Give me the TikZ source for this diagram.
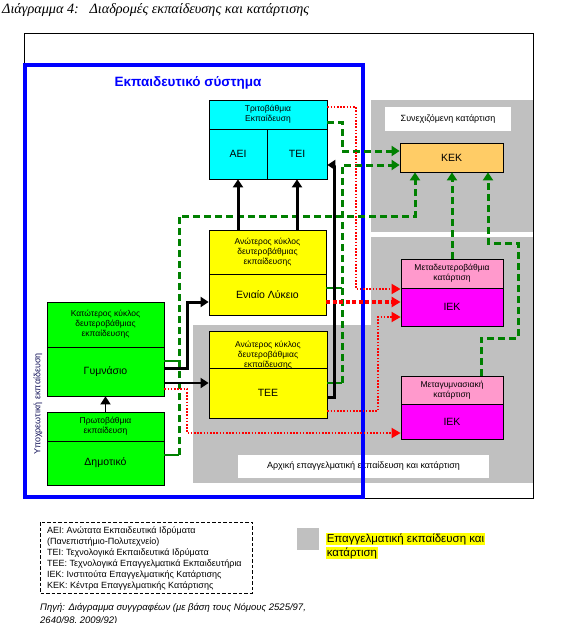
\documentclass[tikz,border=0pt]{standalone}
\usepackage{fontspec}
\setmainfont{Liberation Sans}
\newfontfamily\titlefont{Liberation Serif}
\usetikzlibrary{arrows.meta}
\definecolor{gcol}{RGB}{0,128,0}
\definecolor{graybg}{RGB}{192,192,192}
\definecolor{kekcol}{RGB}{255,204,102}
\definecolor{pinkcol}{RGB}{255,153,204}
\definecolor{magcol}{RGB}{255,0,255}
\definecolor{cyancol}{RGB}{0,255,255}
\definecolor{greencol}{RGB}{0,255,0}
\definecolor{yelcol}{RGB}{255,255,0}
\definecolor{bluecol}{RGB}{0,0,255}
\definecolor{navytext}{RGB}{20,20,90}
\tikzset{
  box/.style={draw=black, line width=0.8pt, inner sep=0pt, align=center},
  hdr/.style={box, font=\fontsize{8.5}{10}\selectfont},
  big/.style={box, font=\fontsize{10.5}{12}\selectfont},
  lbl/.style={fill=white, inner sep=0pt, font=\fontsize{9}{11}\selectfont},
  blk/.style={draw=black, line width=3pt, -{Triangle[length=8pt,width=10pt]}},
  blkthin/.style={draw=black, line width=1.8pt, -{Triangle[length=8pt,width=10pt]}},
  gsolid/.style={draw=gcol, line width=2.5pt},
  gdash/.style={draw=gcol, line width=3pt, dash pattern=on 7pt off 4pt},
  gdarr/.style={gdash, -{Triangle[length=8pt,width=10pt]}},
  rdot/.style={draw=red, line width=1.8pt, dash pattern=on 1.6pt off 1.6pt, -{Triangle[length=9pt,width=10pt]}},
  rthick/.style={draw=red, line width=4pt, dash pattern=on 4pt off 2.5pt, -{Triangle[length=9pt,width=10pt]}}
}
\begin{document}
\begin{tikzpicture}[x=1pt,y=-1pt]
\useasboundingbox (0,0) rectangle (583,623);
\clip (0,0) rectangle (583,623);

% title
\node[anchor=west, font=\titlefont\itshape\fontsize{14.2}{16}\selectfont, inner sep=0pt] (title) at (2,10) {Διάγραμμα 4:\ \ \ Διαδρομές εκπαίδευσης και κατάρτισης};

% outer frame
\draw[black, line width=1pt] (24,34) rectangle (533,498);

% gray areas
\fill[graybg] (371,100) rectangle (533,232);
\fill[graybg] (371,237) rectangle (533,483);
\fill[graybg] (193,325) rectangle (371,483);

% white labels
\node[lbl, minimum width=126pt, minimum height=24pt] (contlbl) at (448,119) {Συνεχιζόμενη κατάρτιση};
\node[lbl, minimum width=251pt, minimum height=23pt] (initlbl) at (363.5,466.5) {Αρχική επαγγελματική εκπαίδευση και κατάρτιση};

% blue system box
\draw[bluecol, line width=3.5pt] (25,65) rectangle (363,497);
\node[text=bluecol, font=\bfseries\fontsize{13.5}{15}\selectfont] (systitle) at (188,83) {Εκπαιδευτικό σύστημα};

% rotated label
\node[rotate=90, text=navytext, font=\fontsize{9}{11}\selectfont, inner sep=0pt] (ypox) at (38,404) {Υποχρεωτική εκπαίδευση};

% tertiary
\node[hdr, fill=cyancol, minimum width=118pt, minimum height=29pt] (tritoH) at (268,114.5) {Τριτοβάθμια\\Εκπαίδευση};
\node[big, fill=cyancol, minimum width=58pt, minimum height=50pt] (aei) at (238,154) {ΑΕΙ};
\node[big, fill=cyancol, minimum width=60pt, minimum height=50pt] (tei) at (297,154) {ΤΕΙ};

% lykeio
\node[hdr, fill=yelcol, minimum width=117pt, minimum height=44pt] (lykH) at (267.5,252) {Ανώτερος κύκλος\\δευτεροβάθμιας\\εκπαίδευσης};
\node[big, fill=yelcol, minimum width=117pt, minimum height=41pt] (lyk) at (267.5,294.5) {Ενιαίο Λύκειο};

% TEE
\node[box, fill=yelcol, minimum width=118pt, minimum height=37pt] (teeH) at (268,349.5) {};
\node[align=center, font=\fontsize{8.5}{10}\selectfont, inner sep=0pt] (teeHtxt) at (268,355.5) {Ανώτερος κύκλος\\δευτεροβάθμιας\\εκπαίδευσης};
\node[big, fill=yelcol, minimum width=118pt, minimum height=50pt] (tee) at (268,393) {ΤΕΕ};

% gymnasio
\node[hdr, fill=greencol, minimum width=117pt, minimum height=45pt] (katH) at (105.5,324.5) {Κατώτερος κύκλος\\δευτεροβάθμιας\\εκπαίδευσης};
\node[big, fill=greencol, minimum width=117pt, minimum height=49pt] (gym) at (105.5,371.5) {Γυμνάσιο};

% dimotiko
\node[hdr, fill=greencol, minimum width=117pt, minimum height=29pt] (protH) at (105.5,426.5) {Πρωτοβάθμια\\εκπαίδευση};
\node[big, fill=greencol, minimum width=117pt, minimum height=44pt] (dim) at (105.5,463) {Δημοτικό};

% KEK
\node[big, fill=kekcol, minimum width=103pt, minimum height=29pt] (kek) at (451.5,157.5) {ΚΕΚ};

% IEK boxes
\node[hdr, fill=pinkcol, minimum width=102pt, minimum height=29pt] (metaH) at (452,273.5) {Μεταδευτεροβάθμια\\κατάρτιση};
\node[big, fill=magcol, minimum width=102pt, minimum height=38pt] (iek1) at (452,307) {ΙΕΚ};
\node[hdr, fill=pinkcol, minimum width=102pt, minimum height=28pt] (mgH) at (452,390) {Μεταγυμνασιακή\\κατάρτιση};
\node[big, fill=magcol, minimum width=102pt, minimum height=35pt] (iek2) at (452,421.5) {ΙΕΚ};

% ---------- connectors ----------
% green
\draw[gdarr] (tritoH.east |- 0,122) -- (342,122) -- (342,151) -- (kek.west |- 0,151);
\draw[gsolid] (lyk.east |- 0,288) -- (342,288);
\draw[gsolid] (tee.east |- 0,383) -- (342,383);
\draw[gdarr] (342,383) -- (342,165) -- (kek.west |- 0,165);
\draw[gsolid] (gym.east |- 0,361) -- (179,361);
\draw[gsolid] (dim.east |- 0,455) -- (179,455);
\draw[gdarr] (179,455) -- (179,216) -- (415,216) -- (kek.south -| 415,0);
\draw[gdarr] (metaH.north) -- (kek.south -| metaH.north);
\draw[gdarr] (mgH.north -| 481,0) -- (481,338) -- (518,338) -- (518,243) -- (488,243) -- (kek.south -| 488,0);

% black
\draw[blk] (aei.south |- lykH.north) -- (aei.south);
\draw[blk] (tei.south |- lykH.north) -- (tei.south);
\draw[blk] (gym.east |- 0,368) -- (187,368) -- (187,302) -- (lyk.west |- 0,302);
\draw[blkthin] (gym.east |- 0,383) -- (tee.west |- 0,383);
\draw[blkthin] (protH.north) -- (gym.south);
\draw[blk] (tee.east |- 0,397) -- (334,397) -- (334,165) -- (tei.east |- 0,165);

% red
\draw[rdot] (tritoH.east |- 0,107) -- (356,107) -- (356,289) -- (iek1.west |- 0,289);
\draw[rthick] (lyk.east |- 0,302) -- (iek1.west |- 0,302);
\draw[rdot] (tee.east |- 0,411) -- (378,411) -- (378,317) -- (iek1.west |- 0,317);
\draw[rdot] (gym.east |- 0,389) -- (187,389) -- (187,433) -- (iek2.west |- 0,433);

% ---------- legend ----------
\draw[black, line width=0.9pt, dash pattern=on 3.5pt off 2pt] (40,522) rectangle (252,593);
\node[anchor=north west, align=left, inner sep=0pt, font=\fontsize{9}{11}\selectfont] (legtxt) at (47,527) {ΑΕΙ: Ανώτατα Εκπαιδευτικά Ιδρύματα\\(Πανεπιστήμιο-Πολυτεχνείο)\\ΤΕΙ: Τεχνολογικά Εκπαιδευτικά Ιδρύματα\\ΤΕΕ: Τεχνολογικά Επαγγελματικά Εκπαιδευτήρια\\ΙΕΚ: Ινστιτούτα Επαγγελματικής Κατάρτισης\\ΚΕΚ: Κέντρα Επαγγελματικής Κατάρτισης};

\fill[graybg] (297,528) rectangle (319,550);
\node[anchor=west, fill=yelcol, inner sep=0.6pt, font=\fontsize{11.5}{13}\selectfont] (leg1) at (326,539) {Επαγγελματική εκπαίδευση και};
\node[anchor=west, fill=yelcol, inner sep=0.6pt, font=\fontsize{11.5}{13}\selectfont] (leg2) at (326,553) {κατάρτιση};

% source
\node[anchor=north west, align=left, inner sep=0pt, font=\itshape\fontsize{9.5}{13}\selectfont] (src) at (40,603) {Πηγή: Διάγραμμα συγγραφέων (με βάση τους Νόμους 2525/97,\\2640/98, 2009/92)};
\end{tikzpicture}
\end{document}
